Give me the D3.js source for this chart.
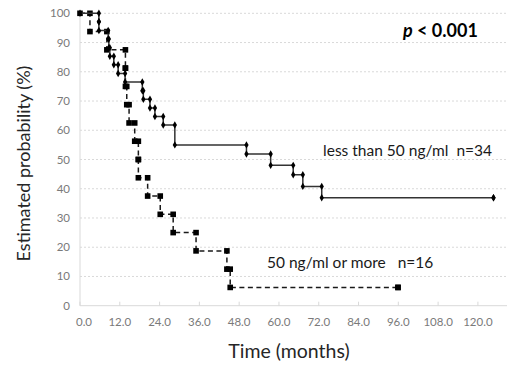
<!DOCTYPE html>
<html lang="en">
<head>
<meta charset="utf-8">
<title>Kaplan-Meier</title>
<script src="https://cdn.jsdelivr.net/npm/d3@7/dist/d3.min.js"></script>
<style>
  body { margin: 0; background: #fff; }
  svg { display: block; font-family: Lato, "Open Sans", sans-serif; }
</style>
</head>
<body>
<script>
// less than 50 ng/ml (n=34)
var lowTimes = [0, 5.7, 5.7, 8.5, 8.7, 9.0, 10.2, 11.5, 13.6, 18.8, 19.1, 21.1, 22.6, 25.1, 28.6, 50.2, 57.5, 64.3, 67.2, 72.9, 124.7];
var lowSurv  = [100, 97.1, 94.1, 91.2, 88.2, 85.3, 82.4, 79.4, 76.5, 73.5, 70.6, 67.6, 64.7, 61.8, 55.0, 51.9, 48.0, 44.8, 40.8, 36.9, 36.9];

// 50 ng/ml or more (n=16)
var highTimes = [0, 3.0, 8.1, 13.7, 13.7, 14.1, 14.8, 16.5, 17.6, 17.6, 20.4, 24.2, 28.1, 35.0, 44.3, 45.3, 95.9];
var highSurv  = [100, 93.75, 87.5, 81.25, 75, 68.75, 62.5, 56.25, 50, 43.75, 37.5, 31.25, 25, 18.75, 12.5, 6.25, 6.25];

var xTicks = [0, 12, 24, 36, 48, 60, 72, 84, 96, 108, 120];
var yTicks = [0, 10, 20, 30, 40, 50, 60, 70, 80, 90, 100];

var W = 507, H = 366;
var svg = d3.select("body").append("svg").attr("width", W).attr("height", H);

var x = d3.scaleLinear().domain([0, 132]).range([80, 517.7]);
var y = d3.scaleLinear().domain([0, 100]).range([305.7, 13.3]);

// gridlines
svg.append("g").selectAll("line")
  .data(yTicks.slice(1))
  .enter().append("line")
  .attr("x1", x(0)).attr("x2", x(132))
  .attr("y1", function(d) { return y(d); })
  .attr("y2", function(d) { return y(d); })
  .attr("stroke", "#d9d9d9")
  .attr("stroke-width", 1)
  .attr("stroke-dasharray", "2,2");

// axes lines
svg.append("line").attr("x1", x(0)).attr("x2", x(0)).attr("y1", y(0)).attr("y2", y(100))
  .attr("stroke", "#d9d9d9");
svg.append("line").attr("x1", x(0)).attr("x2", x(132)).attr("y1", y(0)).attr("y2", y(0))
  .attr("stroke", "#d9d9d9");

// x ticks
svg.append("g").selectAll("line")
  .data(xTicks)
  .enter().append("line")
  .attr("x1", function(d) { return x(d); }).attr("x2", function(d) { return x(d); })
  .attr("y1", y(0)).attr("y2", y(0) - 4)
  .attr("stroke", "#d9d9d9");

svg.append("g").selectAll("text")
  .data(xTicks)
  .enter().append("text")
  .attr("x", function(d) { return x(d) + (d === 0 ? 4 : 0); })
  .attr("y", 325.5)
  .attr("text-anchor", "middle")
  .attr("font-size", 11.5)
  .attr("fill", "#7a7a7a")
  .text(function(d) { return d.toFixed(1); });

svg.append("g").selectAll("text")
  .data(yTicks)
  .enter().append("text")
  .attr("x", 70)
  .attr("y", function(d) { return y(d) + 4; })
  .attr("text-anchor", "end")
  .attr("font-size", 11.5)
  .attr("fill", "#7a7a7a")
  .text(function(d) { return d; });

// axis titles
svg.append("text")
  .attr("transform", "translate(30," + ((y(0) + y(100)) / 2 + 4) + ") rotate(-90)")
  .attr("text-anchor", "middle")
  .attr("font-size", 18)
  .attr("fill", "#262626")
  .text("Estimated probability (%)");

svg.append("text")
  .attr("x", 289).attr("y", 358)
  .attr("text-anchor", "middle")
  .attr("font-size", 19.5)
  .attr("fill", "#262626")
  .text("Time (months)");

function pts(ts, ss) {
  return ts.map(function(t, i) { return [t, ss[i]]; });
}
function corners(ts, ss) {
  var out = [[ts[0], ss[0]]];
  for (var i = 1; i < ts.length; i++) {
    out.push([ts[i], ss[i - 1]]);
    out.push([ts[i], ss[i]]);
  }
  return out;
}

var step = d3.line()
  .x(function(d) { return x(d[0]); })
  .y(function(d) { return y(d[1]); })
  .curve(d3.curveStepAfter);

// high group, dashed
svg.append("path")
  .datum(pts(highTimes, highSurv))
  .attr("d", step)
  .attr("fill", "none")
  .attr("stroke", "#1a1a1a")
  .attr("stroke-width", 1.5)
  .attr("stroke-dasharray", "5,3.5");

svg.append("g").selectAll("rect")
  .data(corners(highTimes, highSurv))
  .enter().append("rect")
  .attr("x", function(d) { return x(d[0]) - 2.8; })
  .attr("y", function(d) { return y(d[1]) - 2.8; })
  .attr("width", 5.6).attr("height", 5.6)
  .attr("fill", "#000");

// low group, solid
svg.append("path")
  .datum(pts(lowTimes, lowSurv))
  .attr("d", step)
  .attr("fill", "none")
  .attr("stroke", "#333")
  .attr("stroke-width", 1.5);

var diamond = d3.symbol().type(d3.symbolDiamond).size(16);
svg.append("g").selectAll("path")
  .data(corners(lowTimes, lowSurv))
  .enter().append("path")
  .attr("d", diamond)
  .attr("transform", function(d) { return "translate(" + x(d[0]) + "," + y(d[1]) + ")"; })
  .attr("fill", "#000");

// annotations
svg.append("text")
  .attr("x", x(73.3)).attr("y", y(51.2))
  .attr("font-size", 15.5)
  .attr("fill", "#1a1a1a")
  .attr("xml:space", "preserve")
  .text("less than 50 ng/ml  n=34");

svg.append("text")
  .attr("x", x(56.4)).attr("y", y(13.0))
  .attr("font-size", 15.5)
  .attr("fill", "#1a1a1a")
  .attr("xml:space", "preserve")
  .text("50 ng/ml or more   n=16");

var pt = svg.append("text")
  .attr("x", x(97.4)).attr("y", y(92))
  .attr("font-size", 18)
  .attr("font-weight", "bold")
  .attr("fill", "#000");
pt.append("tspan").attr("font-style", "italic").text("p");
pt.append("tspan").text(" < 0.001");
</script>
</body>
</html>
